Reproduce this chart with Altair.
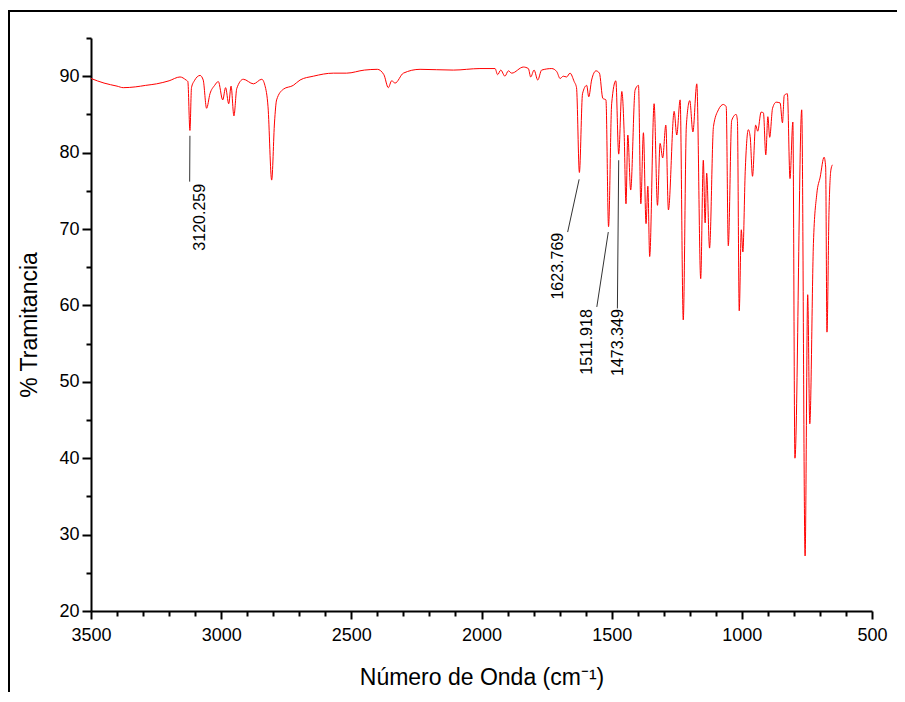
import altair as alt
import pandas as pd

# Spectrum (wavenumber in cm-1, % transmittance)
wavenumber = [3500, 3450, 3400, 3376, 3330, 3290, 3248, 3200, 3158, 3135, 3128, 3120, 3114, 3103,
              3081, 3069, 3056, 3043, 3025, 3011, 2994, 2983, 2971, 2962, 2951, 2940, 2915, 2876,
              2844, 2832, 2820, 2806, 2795, 2787, 2761, 2723, 2697, 2646, 2569, 2518, 2450, 2400,
              2375, 2358, 2345, 2332, 2300, 2236, 2108, 2006, 1948, 1938, 1926, 1910, 1897, 1884,
              1839, 1820, 1811, 1798, 1784, 1769, 1730, 1711, 1698, 1686, 1673, 1660, 1644, 1635,
              1624, 1612, 1596, 1588, 1577, 1560, 1547, 1534, 1522, 1512, 1500, 1484, 1473, 1461,
              1452, 1445, 1438, 1427, 1410, 1397, 1388, 1378, 1368, 1361, 1354, 1337, 1324, 1314,
              1304, 1292, 1282, 1260, 1250, 1237, 1225, 1213, 1200, 1188, 1173, 1158, 1148, 1141,
              1135, 1124, 1109, 1090, 1071, 1060, 1052, 1039, 1022, 1017, 1010, 1002, 996, 987,
              975, 968, 959, 947, 939, 926, 917, 908, 900, 893, 882, 868, 853, 844, 837, 825, 815,
              804, 796, 770, 757, 747, 739, 725, 712, 699, 684, 678, 673, 665, 658, 652]
transmittance = [89.7, 89.1, 88.7, 88.5, 88.6, 88.8, 89.0, 89.4, 89.9, 89.5, 89.3, 82.9, 88.5, 89.4,
                 90.1, 89.5, 85.8, 87.7, 88.8, 89.3, 86.9, 88.5, 86.4, 88.7, 84.8, 88.4, 89.6, 89.0,
                 89.6, 88.8, 86.0, 76.4, 84.0, 86.9, 88.3, 88.8, 89.5, 90.0, 90.4, 90.4, 90.8, 90.9,
                 90.2, 88.5, 89.4, 89.1, 90.4, 90.9, 90.8, 91.0, 91.0, 90.2, 90.8, 90.0, 90.7, 90.4,
                 91.2, 91.0, 89.9, 90.8, 89.5, 90.8, 91.0, 90.6, 89.7, 90.0, 89.9, 90.4, 89.3, 88.5,
                 77.4, 87.7, 88.8, 87.3, 89.5, 90.7, 90.4, 87.1, 86.9, 70.3, 86.4, 89.4, 79.8, 88.0,
                 82.5, 73.3, 82.3, 75.1, 88.2, 88.8, 73.3, 82.6, 70.7, 75.6, 66.4, 86.4, 73.1, 81.2,
                 79.3, 83.6, 72.5, 85.4, 82.3, 86.9, 58.1, 83.6, 86.8, 82.7, 89.0, 63.5, 79.0, 70.8,
                 77.3, 67.5, 83.4, 85.6, 86.3, 86.0, 67.8, 84.2, 85.0, 84.2, 59.3, 69.9, 67.0, 77.5,
                 83.0, 82.1, 76.9, 83.6, 82.8, 85.3, 85.2, 79.7, 84.7, 82.0, 85.8, 86.6, 86.5, 83.9,
                 87.5, 87.7, 76.6, 84.0, 40.0, 85.6, 27.2, 61.4, 44.5, 68.1, 74.6, 76.8, 79.4, 78.1,
                 56.5, 72.5, 77.7, 78.4]

# Peak annotations
label_text = ["3120.259", "1623.769", "1511.918", "1473.349"]
leader_x1 = [3120, 1625, 1513, 1473]
leader_y1 = [82.2, 76.5, 69.6, 79.0]
leader_x2 = [3121, 1669, 1557, 1478]
leader_y2 = [76.2, 69.6, 59.8, 59.6]
text_x = [3081, 1706, 1594, 1475]
text_y = [75.9, 69.5, 59.5, 59.5]

# Axis ticks
x_major = [3500, 3000, 2500, 2000, 1500, 1000, 500]
x_minor = [3400, 3300, 3200, 3100, 2900, 2800, 2700, 2600, 2400, 2300, 2200, 2100,
           1900, 1800, 1700, 1600, 1400, 1300, 1200, 1100, 900, 800, 700, 600]
y_major = [20, 30, 40, 50, 60, 70, 80, 90]
y_minor = [25, 35, 45, 55, 65, 75, 85, 95]

spec = pd.DataFrame({"wn": wavenumber, "T": transmittance})
labels = pd.DataFrame({"label": label_text, "x1": leader_x1, "y1": leader_y1,
                       "x2": leader_x2, "y2": leader_y2, "tx": text_x, "ty": text_y})

FONT = "Liberation Sans"
xs = alt.Scale(domain=[500, 3500], reverse=True, nice=False, zero=False)
ys = alt.Scale(domain=[20, 95], nice=False, zero=False)

common = dict(domainColor="black", domainWidth=2, tickColor="black", tickWidth=2,
              labelFont=FONT, labelColor="black", labelFontSize=18, labelFlush=False,
              labelOverlap=False, grid=False, titleFont=FONT, titleFontSize=23,
              titleFontWeight="normal", titleColor="black", format="d")

line = alt.Chart(spec).mark_line(color="#FF0000", strokeWidth=1, interpolate="monotone").encode(
    x=alt.X("wn:Q", scale=xs, axis=alt.Axis(values=x_major, orient="bottom", tickSize=8,
                                            labelPadding=7, title="Número de Onda (cm⁻¹)",
                                            titlePadding=22, **common)),
    y=alt.Y("T:Q", scale=ys, axis=alt.Axis(values=y_major, orient="left", tickSize=9,
                                           labelPadding=3, title="% Tramitancia",
                                           titlePadding=17, **common)),
)

minor = alt.Chart(spec).mark_point(opacity=0).encode(
    x=alt.X("wn:Q", scale=xs, axis=alt.Axis(values=x_minor, orient="bottom", tickSize=5,
                                            labels=False, domain=False, title=None,
                                            tickColor="black", tickWidth=2, grid=False)),
    y=alt.Y("T:Q", scale=ys, axis=alt.Axis(values=y_minor, orient="left", tickSize=5,
                                           labels=False, domain=False, title=None,
                                           tickColor="black", tickWidth=2, grid=False)),
)

leaders = alt.Chart(labels).mark_rule(color="#333333", strokeWidth=1).encode(
    x=alt.X("x1:Q", scale=xs, axis=None), y=alt.Y("y1:Q", scale=ys, axis=None),
    x2="x2:Q", y2="y2:Q")

texts = alt.Chart(labels).mark_text(angle=270, align="right", baseline="middle",
                                    font=FONT, fontSize=16, color="black").encode(
    x=alt.X("tx:Q", scale=xs, axis=None), y=alt.Y("ty:Q", scale=ys, axis=None),
    text="label:N")

frame = alt.Chart(pd.DataFrame({"a": [0]})).mark_rect(
    filled=False, stroke="black", strokeWidth=2).encode(
    x=alt.value(-82), x2=alt.value(1400), y=alt.value(-27), y2=alt.value(1400))

chart = alt.layer(line, minor, leaders, texts, frame).resolve_axis(
    x="independent", y="independent"
).properties(
    width=781, height=573,
    background="white",
    autosize=alt.AutoSizeParams(type="none"),
    padding={"left": 83, "top": 30, "right": 25, "bottom": 81},
).configure_view(stroke=None)

chart.save("out.html", embed_options={"renderer": "svg", "actions": False})
